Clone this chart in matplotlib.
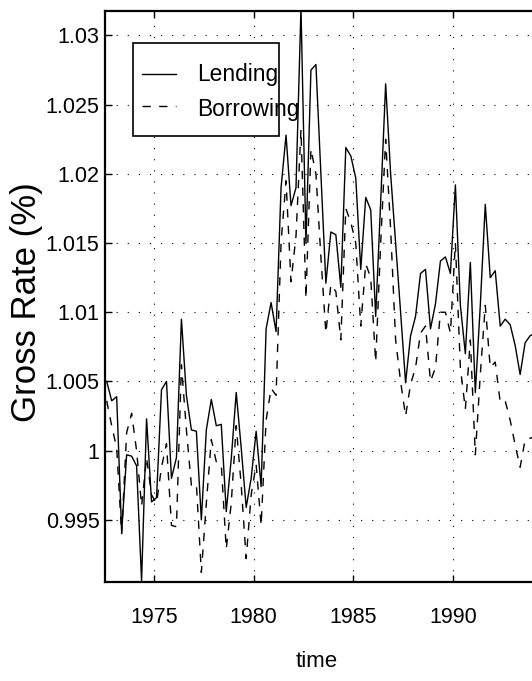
import numpy as np
import matplotlib
matplotlib.use("Agg")
import matplotlib.pyplot as plt
from matplotlib.patches import Rectangle
from matplotlib.lines import Line2D

# quarterly observations
t_start = 1972.625
lending = [
    1.0050, 1.0036, 1.0039, 0.9941, 0.9997, 0.9996, 0.9989, 0.9906, 1.0023, 0.9963,
    0.9966, 1.0044, 1.0050, 0.9980, 0.9995, 1.0095, 1.0040, 1.0015, 1.0014, 0.9950,
    1.0015, 1.0037, 1.0018, 1.0019, 0.9956, 0.9994, 1.0042, 1.0002, 0.9959, 0.9980,
    1.0014, 0.9974, 1.0088, 1.0107, 1.0086, 1.0190, 1.0228, 1.0177, 1.0190, 1.0320,
    1.0150, 1.0275, 1.0279, 1.0200, 1.0121, 1.0158, 1.0156, 1.0118, 1.0219, 1.0213,
    1.0197, 1.0131, 1.0183, 1.0174, 1.0097, 1.0180, 1.0265, 1.0200, 1.0150, 1.0100,
    1.0049, 1.0083, 1.0097, 1.0128, 1.0131, 1.0088, 1.0106, 1.0137, 1.0140, 1.0128,
    1.0192, 1.0105, 1.0070, 1.0136, 1.0042, 1.0105, 1.0178, 1.0125, 1.0130, 1.0090,
    1.0095, 1.0091, 1.0076, 1.0055, 1.0078, 1.0083, 1.0085,
]
borrowing = [
    1.0036, 1.0018, 1.0002, 0.9940, 1.0013, 1.0027, 1.0000, 0.9960, 0.9995, 0.9968,
    0.9962, 0.9988, 1.0005, 0.9946, 0.9945, 1.0062, 1.0015, 0.9975, 0.9976, 0.9912,
    0.9962, 1.0008, 0.9992, 0.9990, 0.9929, 0.9962, 1.0018, 0.9975, 0.9922, 0.9968,
    0.9990, 0.9946, 1.0022, 1.0045, 1.0040, 1.0150, 1.0195, 1.0122, 1.0155, 1.0232,
    1.0110, 1.0218, 1.0200, 1.0140, 1.0085, 1.0120, 1.0115, 1.0080, 1.0175, 1.0165,
    1.0150, 1.0090, 1.0135, 1.0125, 1.0064, 1.0150, 1.0225, 1.0160, 1.0080, 1.0050,
    1.0025, 1.0048, 1.0060, 1.0085, 1.0090, 1.0050, 1.0060, 1.0100, 1.0100, 1.0085,
    1.0150, 1.0060, 1.0030, 1.0080, 0.9997, 1.0055, 1.0105, 1.0060, 1.0064, 1.0035,
    1.0036, 1.0022, 1.0004, 0.9988, 1.0008, 1.0009, 1.0010,
]
x_ticks = [1975, 1980, 1985, 1990]
y_ticks = [0.995, 1.0, 1.005, 1.01, 1.015, 1.02, 1.025, 1.03]
y_labels = ["0.995", "1", "1.005", "1.01", "1.015", "1.02", "1.025", "1.03"]

t = t_start + 0.25 * np.arange(len(lending))

sans = ["Liberation Sans", "DejaVu Sans"]

fig = plt.figure(figsize=(5.32, 6.81), dpi=100)
ax = fig.add_axes([0.1974, 0.1454, 0.8026, 0.8385])

ax.plot(t, lending, color="black", lw=1.0)
ax.plot(t, borrowing, color="black", lw=1.0, dashes=(6, 6))

ax.set_xlim(1972.54, 1993.97)
ax.set_ylim(0.99051, 1.03177)

ax.set_xticks(x_ticks)
ax.set_xticklabels([str(v) for v in x_ticks], family=sans, fontsize=15.5)
ax.set_yticks(y_ticks)
ax.set_yticklabels(y_labels, family=sans, fontsize=15.5)
ax.tick_params(direction="in", length=5, width=1, top=True, right=False)
ax.tick_params(axis="x", pad=18)
ax.tick_params(axis="y", pad=4)

ax.grid(True, color="black", lw=0.8, linestyle=(0, (1, 9)))

for side in ["left", "bottom", "top"]:
    ax.spines[side].set_linewidth(1.6)
ax.spines["right"].set_visible(False)

ax.set_xlabel("time", family=sans, fontsize=16)
ax.xaxis.set_label_coords(0.4965, -0.12)
ax.set_ylabel("Gross Rate (%)", family=sans, fontsize=25)
ax.yaxis.set_label_coords(-0.145, 0.49)

# MATLAB-style legend box (text runs past the frame)
ax.add_patch(Rectangle((0.0649, 0.7811), 0.3433, 0.1629, transform=ax.transAxes,
                       facecolor="white", edgecolor="black", lw=1.2, zorder=5))
ax.add_line(Line2D([0.0859, 0.1663], [0.8897, 0.8897], transform=ax.transAxes,
                   color="black", lw=1.0, zorder=6))
ax.add_line(Line2D([0.0859, 0.1663], [0.8336, 0.8336], transform=ax.transAxes,
                   color="black", lw=1.0, dashes=(6, 6), zorder=6))
ax.text(0.2155, 0.8765, "Lending", transform=ax.transAxes, family=sans,
        fontsize=16.4, va="baseline", zorder=7)
ax.text(0.2155, 0.8160, "Borrowing", transform=ax.transAxes, family=sans,
        fontsize=16.4, va="baseline", zorder=7)

fig.savefig("out.png", dpi=100)
